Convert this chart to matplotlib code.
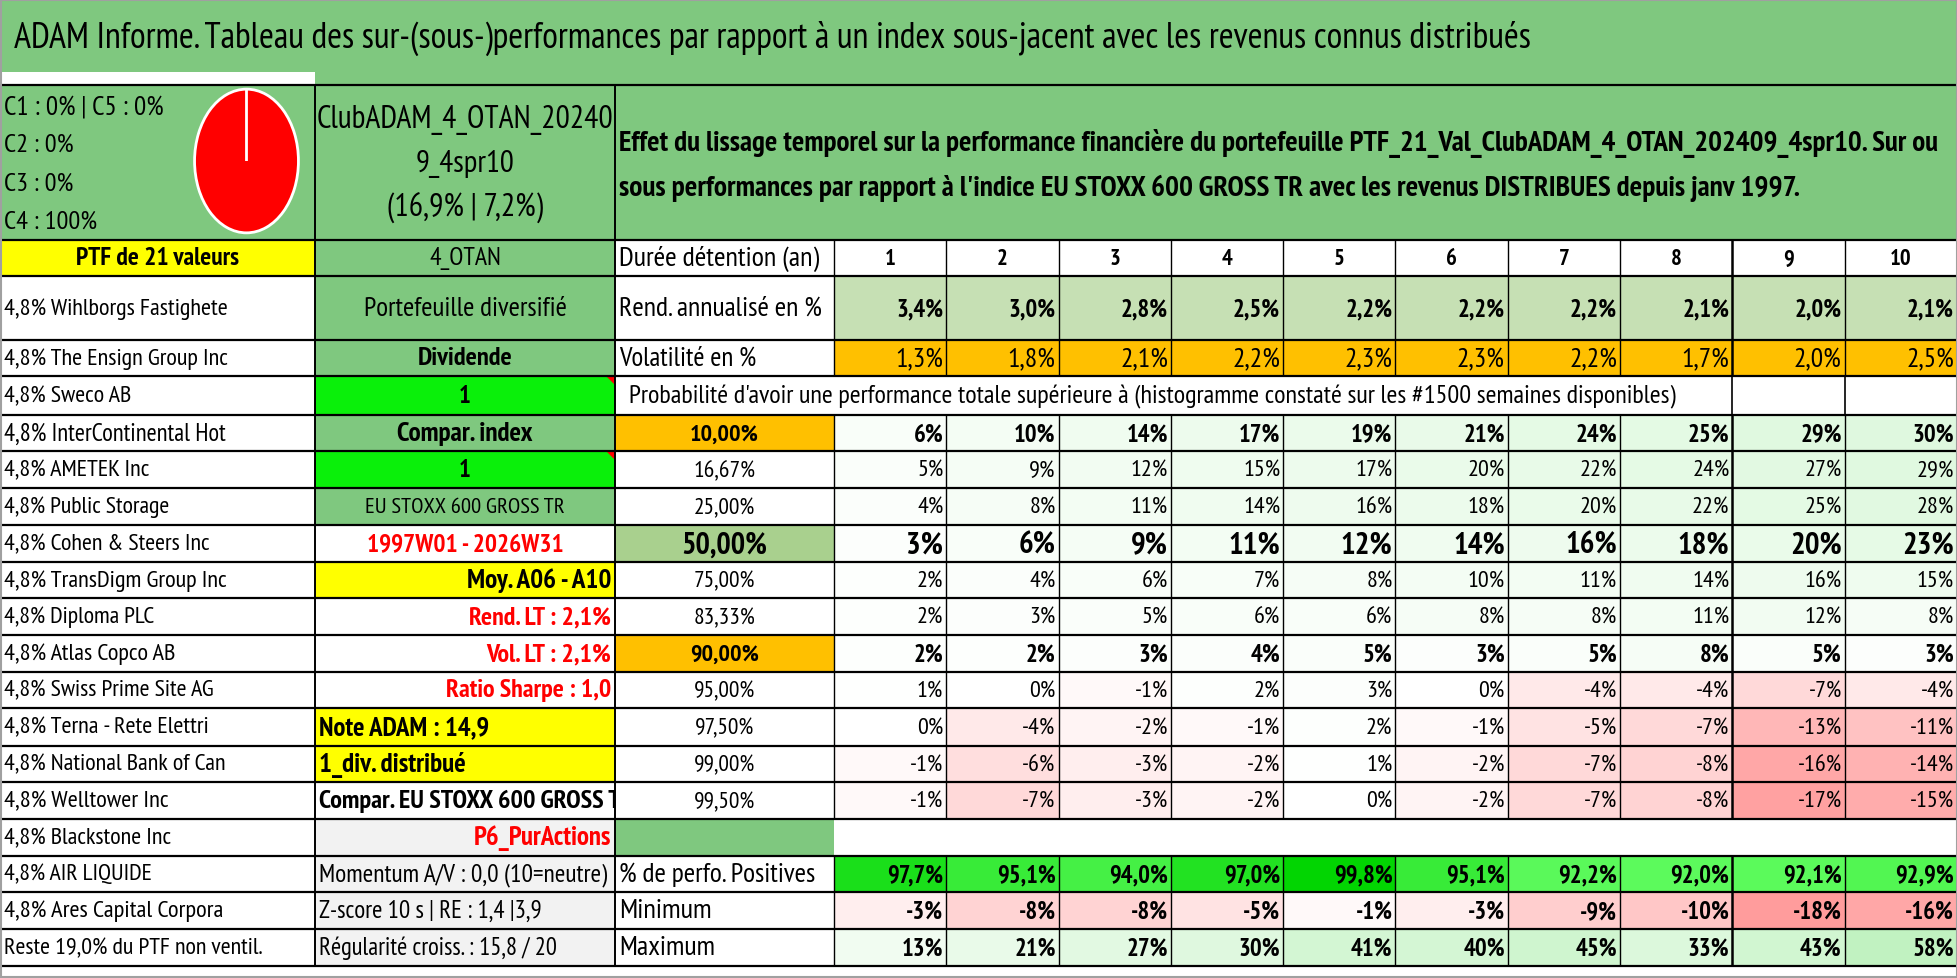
import numpy as np
import matplotlib
matplotlib.use("Agg")
import matplotlib.pyplot as plt
from matplotlib.patches import Rectangle, Polygon
from matplotlib.colors import LinearSegmentedColormap, TwoSlopeNorm, Normalize
from matplotlib import font_manager
from matplotlib.font_manager import FontProperties
from matplotlib.textpath import TextPath

# ---- data ----
title = ("ADAM Informe. Tableau des sur-(sous-)performances par rapport à un index "
         "sous-jacent avec les revenus connus distribués")
intro_lines = [
    "Effet du lissage temporel sur la performance financière du portefeuille "
    "PTF_21_Val_ClubADAM_4_OTAN_202409_4spr10. Sur ou",
    "sous performances par rapport à l'indice EU STOXX 600 GROSS TR avec les revenus "
    "DISTRIBUES depuis janv 1997.",
]
prob_text = ("Probabilité d'avoir une performance totale supérieure à "
             "(histogramme constaté sur les #1500 semaines disponibles)")

classes = ["C1", "C2", "C3", "C4", "C5"]
class_shares = [0, 0, 0, 100, 0]

ptf_name = ["ClubADAM_4_OTAN_20240", "9_4spr10", "(16,9% | 7,2%)"]
ptf_title = "PTF de 21 valeurs"
holdings = [
    "4,8% Wihlborgs Fastighete", "4,8% The Ensign Group Inc", "4,8% Sweco AB",
    "4,8% InterContinental Hot", "4,8% AMETEK Inc", "4,8% Public Storage",
    "4,8% Cohen & Steers Inc", "4,8% TransDigm Group Inc", "4,8% Diploma PLC",
    "4,8% Atlas Copco AB", "4,8% Swiss Prime Site AG", "4,8% Terna - Rete Elettri",
    "4,8% National Bank of Can", "4,8% Welltower Inc", "4,8% Blackstone Inc",
    "4,8% AIR LIQUIDE", "4,8% Ares Capital Corpora", "Reste 19,0% du PTF non ventil.",
]
side_texts = [
    "4_OTAN", "Portefeuille diversifié", "Dividende", "1", "Compar. index", "1",
    "EU STOXX 600 GROSS TR", "1997W01 - 2026W31", "Moy. A06 - A10", "Rend. LT : 2,1%",
    "Vol. LT : 2,1%", "Ratio Sharpe : 1,0", "Note ADAM : 14,9", "1_div. distribué",
    "Compar. EU STOXX 600 GROSS TR", "P6_PurActions", "Momentum A/V : 0,0 (10=neutre)",
    "Z-score 10 s | RE : 1,4 |3,9", "Régularité croiss. : 15,8 / 20",
]

durations = [1, 2, 3, 4, 5, 6, 7, 8, 9, 10]
rend = [3.4, 3.0, 2.8, 2.5, 2.2, 2.2, 2.2, 2.1, 2.0, 2.1]
vol = [1.3, 1.8, 2.1, 2.2, 2.3, 2.3, 2.2, 1.7, 2.0, 2.5]
percentiles = ["10,00%", "16,67%", "25,00%", "50,00%", "75,00%", "83,33%",
               "90,00%", "95,00%", "97,50%", "99,00%", "99,50%"]
perf = [
    [6, 10, 14, 17, 19, 21, 24, 25, 29, 30],
    [5, 9, 12, 15, 17, 20, 22, 24, 27, 29],
    [4, 8, 11, 14, 16, 18, 20, 22, 25, 28],
    [3, 6, 9, 11, 12, 14, 16, 18, 20, 23],
    [2, 4, 6, 7, 8, 10, 11, 14, 16, 15],
    [2, 3, 5, 6, 6, 8, 8, 11, 12, 8],
    [2, 2, 3, 4, 5, 3, 5, 8, 5, 3],
    [1, 0, -1, 2, 3, 0, -4, -4, -7, -4],
    [0, -4, -2, -1, 2, -1, -5, -7, -13, -11],
    [-1, -6, -3, -2, 1, -2, -7, -8, -16, -14],
    [-1, -7, -3, -2, 0, -2, -7, -8, -17, -15],
]
positives = [97.7, 95.1, 94.0, 97.0, 99.8, 95.1, 92.2, 92.0, 92.1, 92.9]
minimum = [-3, -8, -8, -5, -1, -3, -9, -10, -18, -16]
maximum = [13, 21, 27, 30, 41, 40, 45, 33, 43, 58]

# ---- styles ----
GREEN = "#7FC87F"
BRIGHT = "#0AF00A"
YELLOW = "#FFFF00"
ORANGE = "#FFC000"
LIGHT = "#C6E0B4"
GRAY = "#F2F2F2"
RED = "#FF0000"

# label sizes are set for Calibri metrics (Carlito), then moved to a narrower
# face at about the same width, since the reference letters are taller
names = {f.name for f in font_manager.fontManager.ttflist}
BASE = "Carlito" if "Carlito" in names else "DejaVu Sans"
FONT = BASE
for cand in ["PT Sans Narrow", "Roboto Condensed", "Fira Sans Condensed"]:
    if cand in names:
        FONT = cand
        break

side_style = [  # (bg, color, weight, ha, size)
    (GREEN, "k", "normal", "center", 14.5), (GREEN, "k", "normal", "center", 16),
    (GREEN, "k", "bold", "center", 15.5), (BRIGHT, "k", "bold", "center", 16),
    (GREEN, "k", "bold", "center", 15.5), (BRIGHT, "k", "bold", "center", 16),
    (GREEN, "k", "normal", "center", 13.6), ("white", RED, "bold", "center", 15.5),
    (YELLOW, "k", "bold", "right", 15.5), ("white", RED, "bold", "right", 15.5),
    ("white", RED, "bold", "right", 15.5), ("white", RED, "bold", "right", 15.5),
    (YELLOW, "k", "bold", "left", 15.6), (YELLOW, "k", "bold", "left", 15.6),
    ("white", "k", "bold", "left", 15.5), (GRAY, RED, "bold", "right", 15.5),
    (GRAY, "k", "normal", "left", 14.4), (GRAY, "k", "normal", "left", 14.4),
    (GRAY, "k", "normal", "left", 14.4),
]

W, H = 1958, 979
y_edges = [241, 277, 341, 377, 416, 452, 489, 526, 563, 599, 636, 673, 709,
           747, 783, 820, 857, 893, 930, 967]
X1, X2, X3, XR = 315, 615, 834, 1957
col_edges = np.linspace(X3, XR, 11)

fig = plt.figure(figsize=(W / 100, H / 100), dpi=100)
ax = fig.add_axes([0, 0, 1, 1])
ax.set_xlim(0, W)
ax.set_ylim(H, 0)
ax.axis("off")
texts = []


def digit_size(px, weight):
    # font size (pt) giving digits of the wanted height in pixels
    fp = FontProperties(family=FONT, weight=weight)
    h = TextPath((0, 0), "0", size=100, prop=fp).get_extents().height / 100
    return px * 0.72 / h


def box(x0, x1, y0, y1, color):
    ax.add_patch(Rectangle((x0, y0), x1 - x0, y1 - y0, facecolor=color,
                           edgecolor="none", zorder=1))


def cell(x0, x1, r, color):
    box(x0, x1, y_edges[r], y_edges[r + 1], color)


def put(x, y, s, ha="left", size=14.5, weight="normal", color="k"):
    t = ax.text(x, y, s, ha=ha, va="center", fontsize=size, fontweight=weight,
                color=color, family=BASE, zorder=3)
    texts.append(t)
    return t


def write(x0, x1, r, s, ha="center", size=14.5, weight="normal", color="k", pad=4):
    yc = (y_edges[r] + y_edges[r + 1]) / 2
    x = {"left": x0 + pad, "center": (x0 + x1) / 2, "right": x1 - pad}[ha]
    return put(x, yc, s, ha, size, weight, color)


def num(x0, x1, r, s, px, weight="normal", ha="right", pad=3):
    yc = (y_edges[r] + y_edges[r + 1]) / 2
    x = x1 - pad if ha == "right" else (x0 + x1) / 2
    ax.text(x, yc + 1, s, ha=ha, va="center", fontsize=digit_size(px, weight),
            fontweight=weight, family=FONT, zorder=3)


# title band
box(0, W, 2, 73, GREEN)
box(X1, W, 73, 86, GREEN)
t_title = put(14, 38, title, size=22)

# top block
box(0, XR, 86, 241, GREEN)
class_lines = [f"C1 : {class_shares[0]}% | C5 : {class_shares[4]}%",
               f"C2 : {class_shares[1]}%", f"C3 : {class_shares[2]}%",
               f"C4 : {class_shares[3]}%"]
for k, s in enumerate(class_lines):
    put(4, 107 + 38.5 * k, s, size=16)
for k, s in enumerate(ptf_name):
    put((X1 + X2) / 2, 120 + 44 * k, s, ha="center", size=18)
intro = [put(619, 143 + 45 * k, s, size=17, weight="bold")
         for k, s in enumerate(intro_lines)]

# left column
cell(0, X1, 0, YELLOW)
write(0, X1, 0, ptf_title, size=15.5, weight="bold")
for i, s in enumerate(holdings):
    cell(0, X1, i + 1, "white")
    write(0, X1, i + 1, s, ha="left", size=14.2)

# second column
for i, s in enumerate(side_texts):
    bg, col, wt, ha, sz = side_style[i]
    cell(X1, X2, i, bg)
    t = write(X1, X2, i, s, ha=ha, size=sz, weight=wt, color=col)
    if ha == "left":
        clip = Rectangle((X1, y_edges[i]), X2 - X1, y_edges[i + 1] - y_edges[i],
                         transform=ax.transData, facecolor="none", edgecolor="none")
        t.set_clip_path(clip)
        t.set_clip_on(True)
for i, s in enumerate(side_texts):
    if s == "1":
        ax.add_patch(Polygon([(X2 - 9, y_edges[i]), (X2, y_edges[i]), (X2, y_edges[i] + 9)],
                             closed=True, facecolor=RED, edgecolor="none", zorder=4))

# right block
grid_cmap = LinearSegmentedColormap.from_list(
    "rg", [(0, "#FF9C9C"), (0.5, "#FFFFFF"), (1, "#BFF2BF")])
grid_norm = TwoSlopeNorm(vmin=-18, vcenter=0, vmax=60)
pos_cmap = LinearSegmentedColormap.from_list("pos", ["#5CFA5C", "#00D400"])
pos_norm = Normalize(vmin=92, vmax=100)

cell(X2, X3, 0, "white")
write(X2, X3, 0, "Durée détention (an)", ha="left", size=16)
for j, d in enumerate(durations):
    x0, x1 = col_edges[j], col_edges[j + 1]
    cell(x0, x1, 0, "white")
    num(x0, x1, 0, str(d), 16.5, weight="bold", ha="center")

cell(X2, X3, 1, "white")
write(X2, X3, 1, "Rend. annualisé en %", ha="left", size=16)
cell(X2, X3, 2, "white")
write(X2, X3, 2, "Volatilité en %", ha="left", size=16)
for j in range(10):
    x0, x1 = col_edges[j], col_edges[j + 1]
    cell(x0, x1, 1, LIGHT)
    num(x0, x1, 1, f"{rend[j]:.1f}%".replace(".", ","), 18, weight="bold")
    cell(x0, x1, 2, ORANGE)
    num(x0, x1, 2, f"{vol[j]:.1f}%".replace(".", ","), 20)

cell(X2, XR, 3, "white")
t_prob = put(629, (y_edges[3] + y_edges[4]) / 2, prob_text, size=14.5)

label_bg = {0: ORANGE, 3: "#A9D08E", 6: ORANGE}
row_font = {0: (18, "bold"), 3: (22.5, "bold"), 6: (18, "bold")}
for i, p in enumerate(percentiles):
    r = 4 + i
    px, wt = row_font.get(i, (17.5, "normal"))
    cell(X2, X3, r, label_bg.get(i, "white"))
    num(X2, X3, r, p, px - 0.5, weight=wt, ha="center")
    for j in range(10):
        x0, x1 = col_edges[j], col_edges[j + 1]
        cell(x0, x1, r, grid_cmap(grid_norm(perf[i][j])))
        num(x0, x1, r, f"{perf[i][j]}%", px, weight=wt)

cell(X2, X3, 15, GREEN)
cell(X3, XR, 15, "white")

cell(X2, X3, 16, "white")
write(X2, X3, 16, "% de perfo. Positives", ha="left", size=16)
cell(X2, X3, 17, "white")
write(X2, X3, 17, "Minimum", ha="left", size=16)
cell(X2, X3, 18, "white")
write(X2, X3, 18, "Maximum", ha="left", size=16)
for j in range(10):
    x0, x1 = col_edges[j], col_edges[j + 1]
    cell(x0, x1, 16, pos_cmap(pos_norm(positives[j])))
    num(x0, x1, 16, f"{positives[j]:.1f}%".replace(".", ","), 18, weight="bold")
    cell(x0, x1, 17, grid_cmap(grid_norm(minimum[j])))
    num(x0, x1, 17, f"{minimum[j]}%", 18, weight="bold")
    cell(x0, x1, 18, grid_cmap(grid_norm(maximum[j])))
    num(x0, x1, 18, f"{maximum[j]}%", 18, weight="bold")

# grid lines
kw = dict(color="black", zorder=5)
ax.hlines([86] + y_edges, 0, XR, lw=1.6, **kw)
ax.vlines([1, X1, X2, XR], 86, y_edges[-1], lw=1.4, **kw)
for x in col_edges[:-1]:
    lw = 1.8 if abs(x - col_edges[8]) < 1 else 1.0
    ax.vlines(x, y_edges[0], y_edges[3], lw=lw, **kw)
    ax.vlines(x, y_edges[4], y_edges[15], lw=lw, **kw)
    ax.vlines(x, y_edges[16], y_edges[19], lw=lw, **kw)
ax.vlines(col_edges[8:10], y_edges[3], y_edges[4], lw=1.2, **kw)
ax.add_patch(Rectangle((0.5, 0.5), W - 1.5, H - 1.5, facecolor="none",
                       edgecolor="#A0A0A0", lw=1.5, zorder=6))

# pie of classes
pax = fig.add_axes([193 / W, 1 - 236 / H, 107 / W, 148 / H])
pax.pie(class_shares, colors=["#4472C4", "#ED7D31", "#A5A5A5", RED, "#70AD47"],
        startangle=90, counterclock=False,
        wedgeprops=dict(edgecolor="white", linewidth=2))
pax.set_aspect("auto")
pax.set_xlim(-1.03, 1.03)
pax.set_ylim(-1.03, 1.03)
pax.axis("off")

# fit the long lines to the widths seen in the reference
renderer = fig.canvas.get_renderer()
fitted = [(t_title, 1508), (intro[0], 1322), (intro[1], 1182), (t_prob, 1048)]
for t, width in fitted:
    bb = t.get_window_extent(renderer)
    t.set_fontsize(t.get_fontsize() * width / bb.width)
fixed = {id(t) for t, _ in fitted}

# same widths (a little more for the short labels), taller letters
if FONT != BASE:
    for t in texts:
        w1 = t.get_window_extent(renderer).width
        t.set_fontfamily(FONT)
        w2 = t.get_window_extent(renderer).width
        grow = 1.0 if id(t) in fixed else 1.05
        t.set_fontsize(t.get_fontsize() * grow * w1 / w2)

fig.savefig("out.png", dpi=100)
